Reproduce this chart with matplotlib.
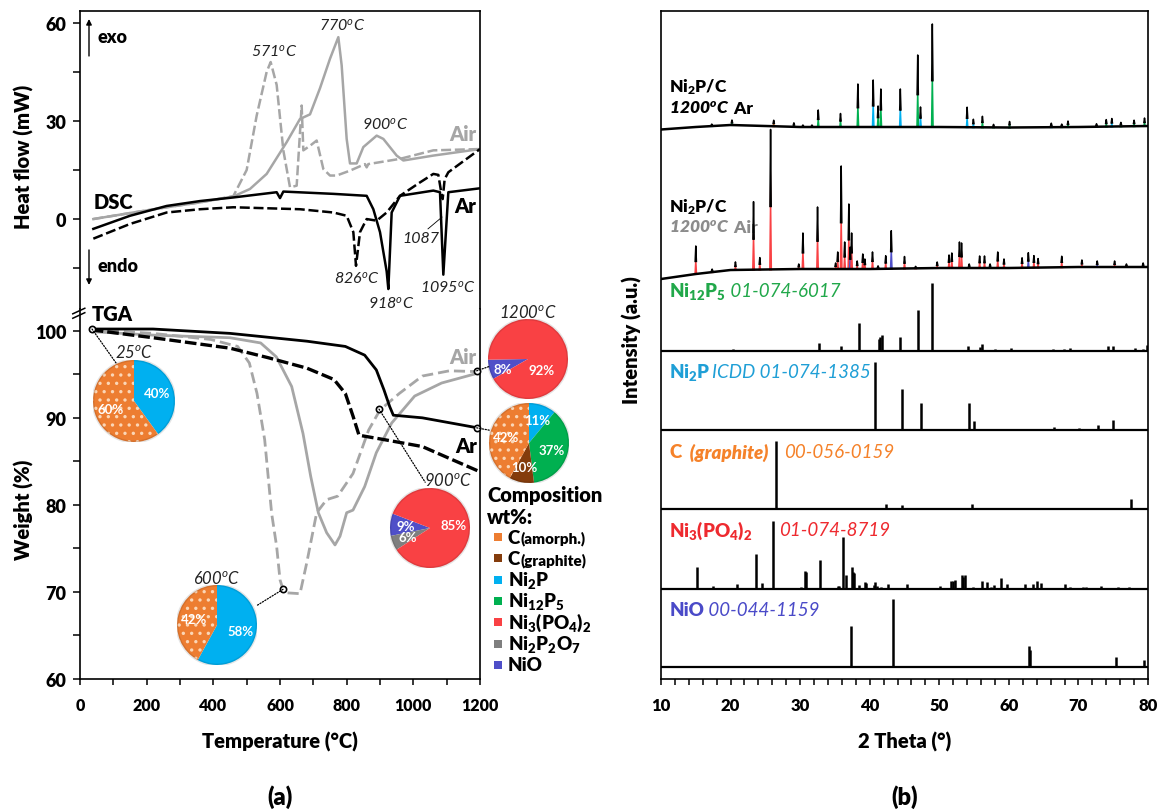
import matplotlib
matplotlib.use("Agg")
import matplotlib.pyplot as plt
import numpy as np
from matplotlib.patches import Circle, ConnectionPatch, Rectangle
from matplotlib.ticker import MultipleLocator

plt.rcParams["font.family"] = ["Lato", "DejaVu Sans"]
plt.rcParams["mathtext.default"] = "regular"
plt.rcParams["hatch.color"] = "#fbd6b6"
plt.rcParams["hatch.linewidth"] = 1.2

BOLD = "heavy"
GREY = "#a6a6a6"
C_AMORPH = "#ed7d31"
C_GRAPH = "#843c0c"
C_NI2P = "#00b0f0"
C_NI12P5 = "#00b050"
C_NI3PO4 = "#f94144"
C_NI2P2O7 = "#7f7f7f"
C_NIO = "#4f4fc8"

# ---------------- DSC (mW) ----------------
dsc_air1_t = [40, 160, 260, 360, 460, 510, 560, 620, 660, 690, 720, 750, 775, 785, 800, 810,
              830, 850, 890, 910, 950, 970, 1060, 1200]
dsc_air1_v = [0, 2, 3.6, 5.1, 6.9, 9.2, 13.8, 23.5, 30.6, 32, 40, 49, 55.6, 47, 24.5, 17,
              17, 22, 25.5, 24.5, 19.4, 17.9, 19.4, 21.4]
dsc_air2_t = [40, 160, 260, 360, 460, 500, 530, 560, 572, 590, 610, 630, 650, 660, 665, 670,
              690, 710, 730, 750, 770, 810, 855, 860, 865, 960, 1060, 1200]
dsc_air2_v = [0, 2, 3.6, 5.1, 7, 15, 31.6, 45, 48, 41, 21, 9.7, 10.2, 26.5, 34.7, 21,
              22.4, 24, 15.3, 13.3, 13.3, 14.8, 16.8, 15.8, 16.8, 18.4, 21, 21.4]
dsc_ar1_t = [40, 150, 260, 360, 460, 590, 600, 610, 760, 860, 880, 900, 920, 925, 935, 960,
             1060, 1080, 1090, 1105, 1200]
dsc_ar1_v = [-3, 1, 4, 5.5, 6.6, 8.2, 6.4, 8.4, 7.7, 7.1, 3, -4, -16, -21.4, 2, 7.1,
             8.7, 8.2, -17, 8.2, 9.4]
dsc_ar2_t = [40, 150, 260, 360, 460, 660, 760, 800, 820, 828, 840, 860, 890, 920, 960, 1020,
             1060, 1075, 1082, 1088, 1094, 1105, 1200]
dsc_ar2_v = [-6, -1.5, 2, 3, 3.6, 3, 2, 1, -4, -14.3, -4, 0, -0.5, 2, 7.1, 11.2,
             13.8, 13.5, 9.2, 6.1, 12.2, 14.3, 21.4]

# ---------------- TGA (%) ----------------
tga_ar1_t = [35, 219, 450, 681, 796, 854, 889, 912, 929, 940, 1027, 1200]
tga_ar1_v = [100.2, 100.2, 99.7, 98.8, 98.2, 97.2, 95.5, 93.2, 91.3, 90.3, 90.0, 88.8]
tga_ar2_t = [35, 219, 450, 565, 681, 762, 796, 819, 837, 912, 1027, 1200]
tga_ar2_v = [100.1, 99.2, 98.0, 96.9, 95.7, 94.4, 92.8, 90.2, 88.0, 87.5, 86.7, 83.8]
tga_air1_t = [35, 219, 450, 542, 589, 635, 669, 692, 715, 740, 765, 780, 800, 819, 854, 889,
              935, 1004, 1085, 1200]
tga_air1_v = [99.9, 99.5, 99.2, 98.6, 97.0, 93.6, 88.2, 83.3, 79.1, 76.8, 75.4, 76.4, 79.1,
              79.4, 82.1, 86.0, 89.4, 92.5, 94.0, 95.2]
tga_air2_t = [35, 219, 392, 473, 508, 531, 554, 575, 590, 600, 609, 620, 660, 680, 710, 740,
              773, 819, 866, 900, 958, 1027, 1108, 1200]
tga_air2_v = [100.1, 99.7, 99.0, 98.2, 96.3, 92.8, 87.5, 79.0, 75.2, 71.4, 70.3, 69.9, 69.8,
              73.3, 79.1, 80.6, 81.0, 83.6, 88.6, 90.9, 92.8, 94.8, 95.4, 95.3]

# sampled points (temperature, weight) where compositions were measured
sample_t = [36, 609, 897, 1190, 1190]
sample_w = [100.2, 70.3, 91.0, 95.4, 88.85]

# ---------------- pie compositions (wt%) ----------------
pie_25_vals = [40, 60]
pie_25_cols = [C_NI2P, C_AMORPH]
pie_600_vals = [58, 42]
pie_600_cols = [C_NI2P, C_AMORPH]
pie_900_vals = [9, 6, 85]
pie_900_cols = [C_NIO, C_NI2P2O7, C_NI3PO4]
pie_air_vals = [8, 92]
pie_air_cols = [C_NIO, C_NI3PO4]
pie_ar_vals = [11, 37, 10, 42]
pie_ar_cols = [C_NI2P, C_NI12P5, C_GRAPH, C_AMORPH]

legend_main = ["C", "C", "Ni$_2$P", "Ni$_{12}$P$_5$", "Ni$_3$(PO$_4$)$_2$",
               "Ni$_2$P$_2$O$_7$", "NiO"]
legend_extra = ["(amorph.)", "(graphite)", "", "", "", "", ""]
legend_cols = [C_AMORPH, C_GRAPH, C_NI2P, C_NI12P5, C_NI3PO4, C_NI2P2O7, C_NIO]

# ---------------- XRD ----------------
ar_base_x = [10, 15, 20, 25, 30, 40, 50, 60, 70, 80]
ar_base_y = [549.5, 552, 554, 553, 552, 552, 552, 551.5, 552, 553]
ar_peak_pos = [17.3, 20.2, 26.2, 29.1, 30.4, 31.7, 32.6, 35.8, 38.3, 40.5, 41.2, 41.6, 44.4,
               46.9, 47.3, 49.0, 54.0, 54.9, 56.2, 57.8, 60.1, 66.1, 67.6, 68.5, 72.6, 74.0,
               74.8, 76.1, 78.0, 79.5]
ar_peak_h = [2, 5, 6, 4, 2, 2, 17, 13.5, 43, 47, 21, 38, 38,
             72, 20, 103, 20, 8, 11, 3, 6, 4, 3, 6, 3, 7,
             8, 4, 6, 8]
ar_peak_ph = ["b", "g", "o", "g", "b", "b", "g", "g", "g", "b", "g", "g", "b",
              "g", "b", "g", "b", "b", "g", "g", "g", "b", "g", "g", "b", "g",
              "b", "g", "g", "g"]

air_base_x = [10, 15, 20, 30, 40, 50, 60, 70, 80]
air_base_y = [400, 405, 409, 410, 410, 411, 411, 412, 412]
air_peak_pos = [15.0, 17.35, 20.7, 23.3, 24.2, 25.75, 29.8, 30.4, 32.5, 35.1, 35.4, 35.9,
                36.4, 37.0, 37.2, 37.4, 38.2, 39.0, 39.3, 40.4, 41.2, 42.3, 43.1, 45.0,
                46.6, 49.7, 51.4, 51.8, 52.9, 53.2, 54.3, 55.8, 56.5, 57.3, 58.4, 59.3,
                61.9, 62.8, 63.6, 64.2, 67.6, 70.5, 72.7, 75.2, 76.9, 79.3]
air_peak_h = [28, 3, 8, 68, 12, 140, 5, 36, 62, 6, 17, 103,
              27, 65, 22, 36, 8, 15, 10, 17, 3, 13, 38, 12,
              2, 6, 13, 15, 26, 25, 4, 12, 12, 4, 16, 9,
              10, 15, 12, 9, 11, 7, 6, 6, 3, 4]
air_peak_ph = ["r", "r", "r", "r", "r", "r", "r", "r", "r", "r", "r", "r",
               "r", "r", "n", "r", "r", "r", "r", "r", "r", "r", "n", "r",
               "r", "r", "r", "r", "r", "r", "r", "r", "r", "r", "r", "r",
               "r", "n", "r", "r", "r", "r", "n", "r", "r", "n"]

ni12p5_pos = [20.3, 29.05, 32.7, 35.9, 38.4, 41.3, 41.5, 41.7, 44.4, 47.0, 49.0, 54.1, 55.9,
              56.2, 58.0, 60.3, 63.8, 66.4, 67.9, 68.8, 71.7, 74.2, 74.9, 76.1, 78.2, 79.3, 79.8]
ni12p5_int = [3, 2, 12.5, 7.5, 41, 17.5, 20, 24, 20, 61, 100, 7.5, 6,
              10, 2.5, 5, 1, 2.5, 2.5, 5, 1.5, 7.5, 7.5, 1.5, 5, 2.5, 9]
ni2p_pos = [17.4, 30.4, 31.8, 35.3, 40.75, 44.6, 47.4, 54.2, 55.0, 63.6, 66.5, 70.1, 72.8, 74.9]
ni2p_int = [1.5, 2, 2, 2, 100, 60, 40, 40, 13, 1, 5, 2.5, 7.5, 15]
graphite_pos = [26.5, 42.4, 44.6, 54.7, 77.5]
graphite_int = [100, 7.5, 6, 7.5, 14]
ni3po4_pos = [15.2, 17.5, 20.9, 23.6, 24.5, 26.1, 30.1, 30.7, 30.9, 32.8, 35.4, 35.6, 36.1,
              36.6, 37.4, 37.6, 37.8, 38.5, 39.3, 39.5, 40.6, 40.8, 41.0, 41.6, 42.6, 45.4,
              46.9, 50.1, 51.7, 51.95, 52.2, 53.2, 53.4, 53.7, 54.8, 56.1, 56.8, 57.4, 57.9,
              58.9, 59.7, 62.3, 63.4, 64.1, 64.6, 66.0, 68.0, 68.8, 69.6, 70.7, 71.1, 73.2,
              74.5, 75.7, 77.3, 77.8, 79.2]
ni3po4_int = [32, 4, 7.5, 51, 9, 100, 3, 27, 25, 42, 5, 4, 76,
              20, 32, 25, 24, 6, 11, 9, 6.5, 10, 5, 2.5, 7, 7.5,
              2, 4, 12, 12, 13.5, 21, 17.5, 21, 3, 12, 10, 2.5, 6,
              16, 7, 7, 8, 12, 9, 2, 7.5, 2.5, 2, 3.5, 3.5, 4,
              1.5, 3, 3, 1.5, 1.5]
nio_pos = [37.3, 43.3, 62.9, 63.1, 75.4, 79.4]
nio_int = [61, 100, 31, 25, 15, 10]

PHASE_COL = {"g": C_NI12P5, "b": C_NI2P, "o": C_AMORPH, "r": C_NI3PO4, "n": C_NIO}

W, H = 1170, 812
fig = plt.figure(figsize=(11.7, 8.12), dpi=100)


def fx(px):
    return px / W


def fy(py):
    return 1 - py / H


# ======================= panel (a) =======================
ax_dsc = fig.add_axes([fx(80), fy(310), 400 / W, 298 / H])
ax_tga = fig.add_axes([fx(80), fy(680), 400 / W, 370 / H])

ax_dsc.plot(dsc_air1_t, dsc_air1_v, color=GREY, lw=1.8)
ax_dsc.plot(dsc_air2_t, dsc_air2_v, color=GREY, lw=1.8, dashes=(4, 1.5))
ax_dsc.plot(dsc_ar1_t, dsc_ar1_v, color="black", lw=1.8)
ax_dsc.plot(dsc_ar2_t, dsc_ar2_v, color="black", lw=1.8, dashes=(4, 1.5))
ax_dsc.set_xlim(0, 1200)
ax_dsc.set_ylim(-27.5, 63.6)
ax_dsc.set_yticks([0, 30, 60])
ax_dsc.yaxis.set_minor_locator(MultipleLocator(15))
ax_dsc.spines["bottom"].set_visible(False)
ax_dsc.tick_params(axis="x", bottom=False, labelbottom=False)

ax_tga.plot(tga_air1_t, tga_air1_v, color=GREY, lw=2)
ax_tga.plot(tga_air2_t, tga_air2_v, color=GREY, lw=2, dashes=(4, 1.8))
ax_tga.plot(tga_ar1_t, tga_ar1_v, color="black", lw=2)
ax_tga.plot(tga_ar2_t, tga_ar2_v, color="black", lw=2.4, dashes=(3.5, 1.2))
ax_tga.plot(sample_t, sample_w, "o", ms=4.5, mfc="white", mec="black", mew=1.2, zorder=5,
            clip_on=False)
ax_tga.set_xlim(0, 1200)
ax_tga.set_ylim(60, 102.5)
ax_tga.set_yticks([60, 70, 80, 90, 100])
ax_tga.yaxis.set_minor_locator(MultipleLocator(5))
ax_tga.set_xticks(np.arange(0, 1201, 200))
ax_tga.xaxis.set_minor_locator(MultipleLocator(100))
ax_tga.spines["top"].set_visible(False)

for a in (ax_dsc, ax_tga):
    for s in a.spines.values():
        s.set_linewidth(1.2)
    a.tick_params(which="both", direction="out", right=False, top=False, width=1.1)
    a.tick_params(axis="y", which="major", length=5, labelsize=13, pad=5)
    a.tick_params(axis="y", which="minor", length=5)
    a.tick_params(axis="x", which="both", length=4, labelsize=11.5, pad=9)
    for lab in a.get_yticklabels() + a.get_xticklabels():
        lab.set_fontweight(BOLD)

# break mark on the left spine
for dy in (0, 0.012):
    ax_tga.plot([-0.018, 0.012], [0.975 + dy, 0.99 + dy], transform=ax_tga.transAxes,
                color="black", lw=1.1, clip_on=False)

# DSC annotations
ax_dsc.annotate("", xy=(27, 62), xytext=(27, 49),
                arrowprops=dict(arrowstyle="-|>", color="black", lw=1, mutation_scale=8))
ax_dsc.annotate("", xy=(27, -21), xytext=(27, -8.6),
                arrowprops=dict(arrowstyle="-|>", color="black", lw=1, mutation_scale=8))
ax_dsc.text(51, 55.7, "exo", fontsize=13, fontweight=BOLD, va="center")
ax_dsc.text(51, -14.1, "endo", fontsize=13, fontweight=BOLD, va="center")
ax_dsc.text(42, 5.5, "DSC", fontsize=14.5, fontweight=BOLD, va="center")
peak_txt = [(582, 51.4, "571$^o$C"), (786, 59.5, "770$^o$C"), (915, 29.2, "900$^o$C"),
            (831, -17.8, "826$^o$C"), (933, -25.4, "918$^o$C"), (1104, -20.5, "1095$^o$C"),
            (1023, -5.8, "1087")]
for t, v, s in peak_txt:
    ax_dsc.text(t, v, s, fontsize=11.5, style="italic", color="#222222",
                ha="center", va="center")
ax_dsc.plot([1044, 1086], [-3, 0.6], color="black", lw=0.6)
ax_dsc.text(1149, 26, "Air", fontsize=14.5, fontweight=BOLD, color=GREY, ha="center",
            va="center")
ax_dsc.text(1155, 4, "Ar", fontsize=14.5, fontweight=BOLD, ha="center", va="center")

ax_tga.text(36, 102.0, "TGA", fontsize=14.5, fontweight=BOLD, va="center")
ax_tga.text(1149, 97.1, "Air", fontsize=14.5, fontweight=BOLD, color=GREY, ha="center",
            va="center")
ax_tga.text(1158, 86.8, "Ar", fontsize=14.5, fontweight=BOLD, ha="center", va="center")

fig.text(fx(24), fy(157), "Heat flow (mW)", rotation=90, fontsize=14.5, fontweight=BOLD,
         ha="center", va="center")
fig.text(fx(24), fy(510), "Weight (%)", rotation=90, fontsize=14.5, fontweight=BOLD,
         ha="center", va="center")
fig.text(fx(280), fy(742), "Temperature (°C)", fontsize=14.5, fontweight=BOLD,
         ha="center", va="center")
fig.text(fx(280), fy(797), "(a)", fontsize=17, fontweight=BOLD, ha="center", va="center")


def make_pie(cx, cy, r, vals, cols, start, ccw, title=None, tdx=0.0):
    pa = fig.add_axes([fx(cx - r), fy(cy + r), 2 * r / W, 2 * r / H])
    wedges, _, autot = pa.pie(vals, colors=cols, startangle=start, counterclock=ccw,
                              autopct=lambda p: f"{p:.0f}%", pctdistance=0.6,
                              textprops=dict(color="white", fontsize=9.5, fontweight="bold"))
    for w, c in zip(wedges, cols):
        if c == C_AMORPH:
            w.set_hatch("..")
    pa.add_patch(Circle((0, 0), 1, fill=False, ec=(0, 0, 0, 0.1), lw=2))
    pa.set_xlim(-1, 1)
    pa.set_ylim(-1, 1)
    pa.set_aspect("auto")
    pa.axis("off")
    if title:
        pa.text(tdx, 1.2, title, fontsize=12, style="italic", color="#222222",
                ha="center", va="center")
    return pa, autot


pie25, _ = make_pie(134, 402, 41, pie_25_vals, pie_25_cols, 90, False, "25$^o$C")
pie600, _ = make_pie(217, 626, 40, pie_600_vals, pie_600_cols, 90, False, "600$^o$C")
pie900, _ = make_pie(430, 529, 40, pie_900_vals, pie_900_cols, 159, True, "900$^o$C", 0.45)
pieair, at_air = make_pie(528, 360, 40, pie_air_vals, pie_air_cols, 181, True, "1200$^o$C")
at_air[0].set_position((-0.62, -0.25))
at_air[1].set_position((0.35, -0.27))
piear, _ = make_pie(529, 444, 40, pie_ar_vals, pie_ar_cols, 90, False)

conn = [(pie25, 115, 1.0), (pie600, 26, 1.1), (pie900, 96, 1.15), (pieair, 191, 1.0),
        (piear, 162, 1.03)]
for (pa, ang, rr), t, w in zip(conn, sample_t, sample_w):
    a = np.deg2rad(ang)
    cp = ConnectionPatch((t, w), (rr * np.cos(a), rr * np.sin(a)), coordsA=ax_tga.transData,
                         coordsB=pa.transData, color="black", lw=0.9, ls=(0, (1, 1.3)))
    fig.add_artist(cp)

# composition legend
fig.text(fx(487), fy(496), "Composition", fontsize=14.5, fontweight=BOLD, va="center")
fig.text(fx(487), fy(517), "wt%:", fontsize=14.5, fontweight=BOLD, va="center")
for i, (name, extra, col) in enumerate(zip(legend_main, legend_extra, legend_cols)):
    yy = 538 + i * 21.3
    sq = Rectangle((fx(494), fy(yy + 4)), 8 / W, 8 / H, transform=fig.transFigure,
                   facecolor=col, edgecolor="none")
    if col == C_AMORPH:
        sq.set_hatch("..")
    fig.add_artist(sq)
    lt = fig.text(fx(508), fy(yy), name, fontsize=13.5, fontweight=BOLD, va="center")
    if extra:
        fig.add_artist(matplotlib.text.Annotation(
            extra, xy=(1, 0), xycoords=lt, va="bottom", fontsize=11, fontweight=BOLD))

# ======================= panel (b) =======================
ax_x = fig.add_axes([fx(661), fy(680), 487 / W, 668 / H])
ax_x.set_xlim(10, 80)
ax_x.set_ylim(0, 668)
HW = 0.22
REF_SCALE = 68


def draw_trace(bx, by, pos, hts, phs):
    for p, h, ph in zip(pos, hts, phs):
        b = np.interp(p, bx, by)
        ax_x.fill([p - HW, p, p + HW], [b - 1, b + h, b - 1], facecolor=PHASE_COL[ph],
                  edgecolor="none", zorder=3)
        ax_x.plot([p - 0.09, p, p + 0.09], [b + h * 0.45, b + h, b + h * 0.45],
                  color="black", lw=1.1, zorder=4)
    ax_x.plot(bx, by, color="black", lw=1.8, zorder=4)


draw_trace(ar_base_x, ar_base_y, ar_peak_pos, ar_peak_h, ar_peak_ph)
draw_trace(air_base_x, air_base_y, air_peak_pos, air_peak_h, air_peak_ph)

ref_sets = [(ni12p5_pos, ni12p5_int, 328), (ni2p_pos, ni2p_int, 249),
            (graphite_pos, graphite_int, 170), (ni3po4_pos, ni3po4_int, 90),
            (nio_pos, nio_int, 12)]
for pos, inten, base in ref_sets:
    ax_x.vlines(pos, base, base + np.array(inten) * REF_SCALE / 100, color="black", lw=1.8)
    ax_x.axhline(base, color="black", lw=1.6)

ax_x.set_xticks(np.arange(10, 81, 10))
ax_x.xaxis.set_minor_locator(MultipleLocator(2))
ax_x.set_yticks([])
for s in ax_x.spines.values():
    s.set_linewidth(1.2)
ax_x.tick_params(which="both", direction="out", length=4, width=1.1, labelsize=12, pad=9)
for lab in ax_x.get_xticklabels():
    lab.set_fontweight(BOLD)

ax_x.text(11.2, 592.5, "Ni$_2$P/C", fontsize=12.5, fontweight=BOLD, va="center")
t2 = ax_x.text(11.2, 571.5, "1200$^o$C", fontsize=12.5, fontweight=BOLD, style="italic",
               va="center")
ax_x.annotate(" Ar", xy=(1, 0.5), xycoords=t2, fontsize=12.5, fontweight=BOLD, va="center")
ax_x.text(11.2, 473, "Ni$_2$P/C", fontsize=12.5, fontweight=BOLD, va="center")
t3 = ax_x.text(11.2, 452, "1200$^o$C", fontsize=12.5, fontweight=BOLD, style="italic",
               color="#8c8c8c", va="center")
ax_x.annotate(" Air", xy=(1, 0.5), xycoords=t3, fontsize=12.5, fontweight=BOLD,
              color="#8c8c8c", va="center")

G_TXT = "#21a84a"
B_TXT = "#1f9fd6"
O_TXT = "#f5822a"
R_TXT = "#ee2a2f"
N_TXT = "#4a4ac8"
l1 = ax_x.text(11.2, 388, "Ni$_{12}$P$_5$", fontsize=13.5, fontweight=BOLD, color=G_TXT,
               va="center")
ax_x.annotate(" 01-074-6017", xy=(1, 0.5), xycoords=l1, fontsize=13.5, style="italic",
              color=G_TXT, va="center")
ax_x.text(11.2, 307, "Ni$_2$P", fontsize=13.5, fontweight=BOLD, color=B_TXT, va="center")
ax_x.text(17.3, 307, "ICDD 01-074-1385", fontsize=13.5, style="italic", color=B_TXT,
          va="center")
l3 = ax_x.text(11.2, 227, "C", fontsize=13.5, fontweight=BOLD, color=O_TXT, va="center")
ax_x.annotate("  (graphite)", xy=(1, 0.5), xycoords=l3, fontsize=13.5, fontweight=BOLD,
              style="italic", color=O_TXT, va="center")
ax_x.text(27.7, 227, "00-056-0159", fontsize=13.5, style="italic", color=O_TXT, va="center")
ax_x.text(11.2, 149, "Ni$_3$(PO$_4$)$_2$", fontsize=13.5, fontweight=BOLD, color=R_TXT,
          va="center")
ax_x.text(27.0, 149, "01-074-8719", fontsize=13.5, style="italic", color=R_TXT, va="center")
l5 = ax_x.text(11.2, 69.5, "NiO", fontsize=13.5, fontweight=BOLD, color=N_TXT, va="center")
ax_x.annotate(" 00-044-1159", xy=(1, 0.5), xycoords=l5, fontsize=13.5, style="italic",
              color=N_TXT, va="center")

fig.text(fx(632), fy(340), "Intensity (a.u.)", rotation=90, fontsize=14.5, fontweight=BOLD,
         ha="center", va="center")
fig.text(fx(905), fy(742), "2 Theta (°)", fontsize=14.5, fontweight=BOLD, ha="center",
         va="center")
fig.text(fx(905), fy(797), "(b)", fontsize=17, fontweight=BOLD, ha="center", va="center")

fig.savefig("out.png", dpi=100)
